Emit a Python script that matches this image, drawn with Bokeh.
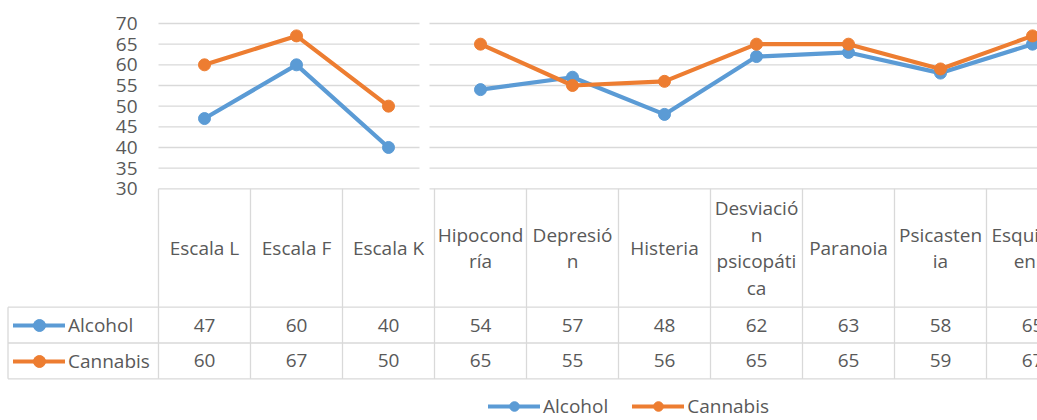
from bokeh.plotting import figure
from bokeh.models import Range1d, Legend, LegendItem
from bokeh.core.properties import value
from bokeh.embed import file_html
from bokeh.resources import INLINE

# ---------------- data ----------------
categories = ["Escala L", "Escala F", "Escala K", "Hipocondría", "Depresión", "Histeria",
              "Desviación psicopática", "Paranoia", "Psicastenia", "Esquizofrenia"]
header_labels = ["Escala L", "Escala F", "Escala K", "Hipocond\nría", "Depresió\nn", "Histeria",
                 "Desviació\nn\npsicopáti\nca", "Paranoia", "Psicasten\nia", "Esquizofr\nenia"]
alcohol = [47, 60, 40, 54, 57, 48, 62, 63, 58, 65]
cannabis = [60, 67, 50, 65, 55, 56, 65, 65, 59, 67]
series_names = ["Alcohol", "Cannabis"]
series_values = [alcohol, cannabis]
series_colors = ["#5B9BD5", "#ED7D31"]
y_ticks = [30, 35, 40, 45, 50, 55, 60, 65, 70]
groups = [(0, 3), (3, 10)]   # the lines are drawn in two separate pieces

# ---------------- layout helpers ----------------
W, H = 1037, 420
COL = 92.0             # px per category
X0 = 204.0             # px of first category centre
PXU = 4.1325           # px per y unit
Y_TOP = 70 + 23 / PXU  # value at the top of the frame

def xi(fx):            # px -> category index coordinate
    return (fx - X0) / COL

def yv(fy):            # px (from top) -> value coordinate
    return Y_TOP - fy / PXU

TXT = "#595959"
GRID = "#D9D9D9"
FONT_NAME = "Open Sans"
FONT = value(FONT_NAME)
FS = "19px"

p = figure(width=W, height=H, output_backend="svg", toolbar_location=None,
           x_range=Range1d(xi(0), xi(W)), y_range=Range1d(yv(H), yv(0)),
           x_axis_type=None, y_axis_type=None, min_border=0,
           outline_line_color=None, background_fill_color="white")

n = len(categories)
idx = list(range(n))

# gridlines (with the small break between the two chart pieces)
gap_l, gap_r = xi(419), xi(429)
gx0, gx1, gy = [], [], []
for t in y_ticks:
    gx0 += [-0.5, gap_r]
    gx1 += [gap_l, n - 0.5]
    gy += [t, t]
p.segment(x0=gx0, y0=gy, x1=gx1, y1=gy, line_color=GRID, line_width=1.3)

# data table
row_tops = [yv(306.7), yv(342.5), yv(378.3)]
tab_bottom = row_tops[-1]
bx = [k - 0.5 for k in range(n + 1)]
p.segment(x0=bx, y0=[y_ticks[0]] * len(bx), x1=bx, y1=[tab_bottom] * len(bx),
          line_color=GRID, line_width=1.3)
p.segment(x0=[xi(7.5)] * 3, y0=row_tops, x1=[n - 0.5] * 3, y1=row_tops,
          line_color=GRID, line_width=1.3)
p.segment(x0=[xi(7.5)], y0=[row_tops[0]], x1=[xi(7.5)], y1=[tab_bottom],
          line_color=GRID, line_width=1.3)

# header labels
p.text(x=idx, y=[(y_ticks[0] + row_tops[0]) / 2] * n, text=header_labels,
       text_align="center", text_baseline="middle", text_font=FONT,
       text_font_size=FS, text_color=TXT, text_line_height=1.03)

# value cells
for r, vals in enumerate(series_values):
    yc = (row_tops[r] + row_tops[r + 1]) / 2
    p.text(x=idx, y=[yc] * n, text=[str(v) for v in vals], text_align="center",
           text_baseline="middle", text_font=FONT, text_font_size=FS, text_color=TXT)

# y tick labels
p.text(x=[-0.5] * len(y_ticks), y=y_ticks, text=[str(t) for t in y_ticks], x_offset=-21,
       text_align="right", text_baseline="middle", text_font=FONT,
       text_font_size=FS, text_color=TXT)

# series
items = []
for name, vals, col in zip(series_names, series_values, series_colors):
    rs = []
    for a, b in groups:
        rs.append(p.line(x=idx[a:b], y=vals[a:b], line_color=col, line_width=4.2,
                         line_join="round", line_cap="round"))
    sc = p.scatter(x=idx, y=vals, size=12, fill_color=col, line_color=col)
    items.append((name, [rs[0], sc]))

# legend keys inside the table
tab_leg = Legend(items=[LegendItem(label=nm, renderers=r) for nm, r in items],
                 orientation="vertical", location=(13, H - 375.5),
                 glyph_width=52, glyph_height=30, label_height=30, spacing=6,
                 label_standoff=3, padding=0, margin=0, border_line_color=None,
                 background_fill_alpha=0, label_text_font=FONT_NAME,
                 label_text_font_size=FS, label_text_color=TXT)
p.add_layout(tab_leg)

# bottom legend
bot_leg = Legend(items=[LegendItem(label=nm, renderers=r) for nm, r in items],
                 orientation="horizontal", location=(488, 1),
                 glyph_width=52, glyph_height=24, label_height=24, spacing=24,
                 label_standoff=3, padding=0, margin=0, border_line_color=None,
                 background_fill_alpha=0, label_text_font=FONT_NAME,
                 label_text_font_size=FS, label_text_color=TXT)
p.add_layout(bot_leg)

open("out.html", "w").write(file_html(p, INLINE))
